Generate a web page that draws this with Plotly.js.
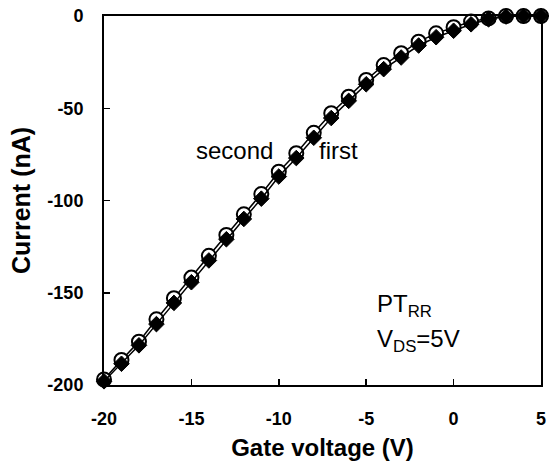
<!DOCTYPE html>
<html>
<head>
<meta charset="utf-8">
<script src="https://cdn.plot.ly/plotly-3.0.1.min.js"></script>
<style>html,body{margin:0;padding:0;background:#fff;}#chart{width:550px;height:469px;}</style>
</head>
<body>
<div id="chart"></div>
<script>
const gateVoltage = [-20,-19,-18,-17,-16,-15,-14,-13,-12,-11,-10,-9,-8,-7,-6,-5,-4,-3,-2,-1,0,1,2,3,4,5];
const currentSecond = [-197,-186.4,-176.5,-164.4,-153,-141.8,-130,-118.7,-107.5,-96.5,-84.4,-74.4,-63.3,-52.7,-43.7,-34.7,-26.6,-20.2,-13.9,-9.4,-6.1,-3,-1.3,0,0,0];
const currentFirst = [-198,-188.5,-178.5,-167,-155.5,-144.3,-132.5,-121,-110,-99,-87,-77,-66,-55.3,-46,-37,-28.8,-22.5,-16,-11.5,-8,-4.5,-1.8,-0.3,0,0];
const xTickVals = [-20,-15,-10,-5,0,5];
const xTickText = ['-20','-15','-10','-5','0','5'];
const yTickVals = [0,-50,-100,-150,-200];
const yTickText = ['0','-50','-100','-150','-200'];

const traces = [
  {x: gateVoltage, y: currentSecond, name: 'second', type: 'scatter', mode: 'lines+markers',
   cliponaxis: false,
   line: {color: '#000', width: 1.5},
   marker: {symbol: 'circle', size: 14, color: '#fff', line: {color: '#000', width: 2}}},
  {x: gateVoltage, y: currentFirst, name: 'first', type: 'scatter', mode: 'lines+markers',
   cliponaxis: false,
   line: {color: '#000', width: 1.5},
   marker: {symbol: 'diamond', size: 12, color: '#000', line: {color: '#000', width: 1}}}
];

const font = 'Liberation Sans, Arial, Helvetica, sans-serif';
const layout = {
  width: 550, height: 469,
  margin: {l: 104, r: 9, t: 16, b: 84},
  paper_bgcolor: '#fff', plot_bgcolor: '#fff',
  showlegend: false,
  font: {family: font, color: '#000'},
  xaxis: {
    range: [-20, 5], tickvals: xTickVals, ticktext: xTickText,
    ticks: 'inside', ticklen: 6, tickwidth: 1.5, tickcolor: '#000',
    showline: true, linecolor: '#000', linewidth: 2, mirror: true,
    showgrid: false, zeroline: false,
    ticklabelstandoff: 16,
    tickfont: {family: font, size: 18, weight: 'bold'},
    title: {text: '<b>Gate voltage (V)</b>', font: {family: font, size: 24}, standoff: 12}
  },
  yaxis: {
    range: [-200, 0], tickvals: yTickVals, ticktext: yTickText,
    ticks: 'inside', ticklen: 6, tickwidth: 1.5, tickcolor: '#000',
    showline: true, linecolor: '#000', linewidth: 2, mirror: true,
    showgrid: false, zeroline: false,
    ticklabelstandoff: 15,
    tickfont: {family: font, size: 18, weight: 'bold'},
    title: {text: '<b>Current (nA)</b>', font: {family: font, size: 25}, standoff: 10}
  },
  annotations: [
    {x: -12.55, y: -73, xref: 'x', yref: 'y', text: 'second', showarrow: false,
     font: {family: font, size: 24}, xanchor: 'center', yanchor: 'middle'},
    {x: -6.6, y: -73, xref: 'x', yref: 'y', text: 'first', showarrow: false,
     font: {family: font, size: 24}, xanchor: 'center', yanchor: 'middle'},
    {x: -4.5, y: -157, xref: 'x', yref: 'y', text: 'PT<sub>RR</sub>', showarrow: false,
     font: {family: font, size: 24}, xanchor: 'left', yanchor: 'middle'},
    {x: -4.5, y: -176, xref: 'x', yref: 'y', text: 'V<sub>DS</sub>=5V', showarrow: false,
     font: {family: font, size: 24}, xanchor: 'left', yanchor: 'middle'}
  ]
};

Plotly.newPlot('chart', traces, layout, {displayModeBar: false, staticPlot: true});
</script>
</body>
</html>
